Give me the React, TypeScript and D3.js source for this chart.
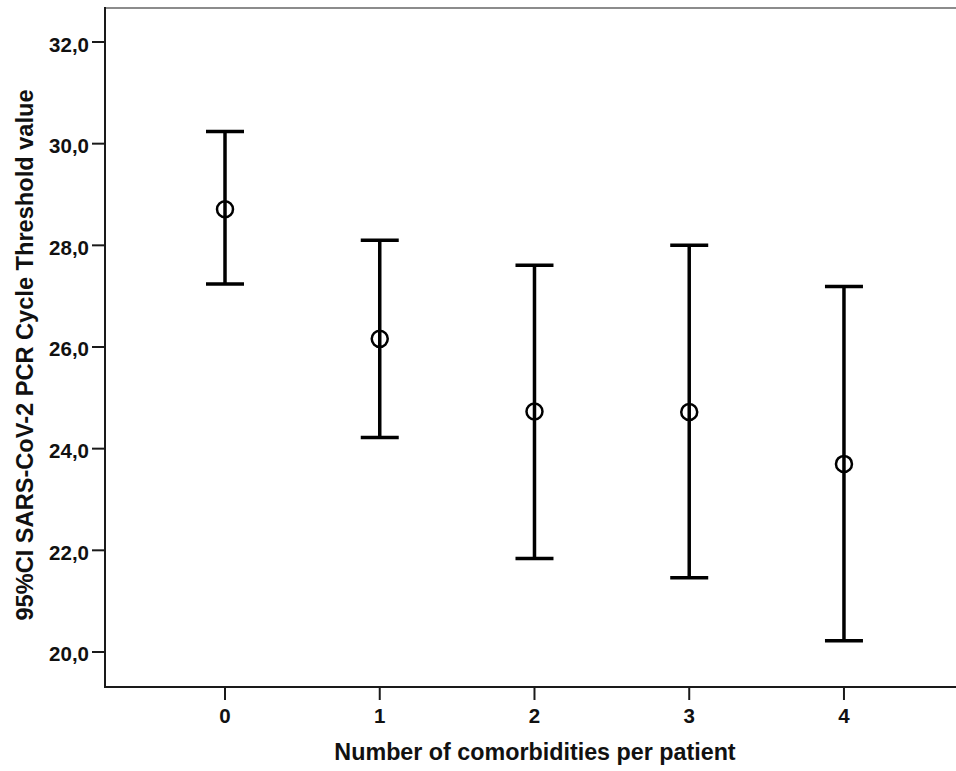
import React from "react";
import * as d3 from "d3";

const categories = [0, 1, 2, 3, 4];
const means = [28.71, 26.16, 24.73, 24.72, 23.7];
const upper = [30.24, 28.1, 27.61, 28.0, 27.19];
const lower = [27.24, 24.22, 21.84, 21.46, 20.22];
const yTicks = [20, 22, 24, 26, 28, 30, 32];
const xTitle = "Number of comorbidities per patient";
const yTitle = "95%CI SARS-CoV-2 PCR Cycle Threshold value";

const W = 956;
const H = 771;
const left = 105;
const right = 956;
const top = 8;
const bottom = 687;
const FONT = "'Liberation Sans', Arial, sans-serif";

export default function App() {
  const x = d3.scaleLinear().domain([-0.7755, 4.724]).range([left, right]);
  const y = d3.scaleLinear().domain([19.311, 32.669]).range([bottom, top]);
  const fmt = (v: number) => d3.format(".1f")(v).replace(".", ",");
  const capHalf = 19;

  return (
    <svg
      width={W}
      height={H}
      style={{ position: "absolute", left: 0, top: 0, background: "#fff" }}
      fontFamily={FONT}
    >
      <rect x={0} y={0} width={W} height={H} fill="#fff" />
      {/* top frame line */}
      <line x1={left} x2={right} y1={top} y2={top} stroke="#8c8c8c" strokeWidth={2} />
      {/* axes */}
      <line x1={left} x2={left} y1={top - 1} y2={bottom + 1} stroke="#1a1a1a" strokeWidth={2} />
      <line x1={left - 1} x2={right} y1={bottom} y2={bottom} stroke="#1a1a1a" strokeWidth={2} />

      {yTicks.map((t) => (
        <g key={"y" + t}>
          <line x1={left - 13} x2={left} y1={y(t)} y2={y(t)} stroke="#1a1a1a" strokeWidth={2} />
          <text
            x={left - 16}
            y={y(t) + 9.5}
            textAnchor="end"
            fontSize={20.5}
            fontWeight="bold"
            fill="#111"
          >
            {fmt(t)}
          </text>
        </g>
      ))}

      {categories.map((c) => (
        <g key={"x" + c}>
          <line x1={x(c)} x2={x(c)} y1={bottom} y2={bottom + 13} stroke="#1a1a1a" strokeWidth={2} />
          <text
            x={x(c)}
            y={bottom + 36}
            textAnchor="middle"
            fontSize={20.5}
            fontWeight="bold"
            fill="#111"
          >
            {c}
          </text>
        </g>
      ))}

      {categories.map((c, i) => (
        <g key={"e" + c} stroke="#000" fill="none">
          <line x1={x(c)} x2={x(c)} y1={y(upper[i])} y2={y(lower[i])} strokeWidth={3.5} />
          <line x1={x(c) - capHalf} x2={x(c) + capHalf} y1={y(upper[i])} y2={y(upper[i])} strokeWidth={3.5} />
          <line x1={x(c) - capHalf} x2={x(c) + capHalf} y1={y(lower[i])} y2={y(lower[i])} strokeWidth={3.5} />
          <circle cx={x(c)} cy={y(means[i])} r={8} strokeWidth={2.5} />
        </g>
      ))}

      <text
        x={535}
        y={760}
        textAnchor="middle"
        fontSize={23.3}
        fontWeight="bold"
        fill="#111"
      >
        {xTitle}
      </text>
      <text
        transform={`translate(33, 355) rotate(-90)`}
        textAnchor="middle"
        fontSize={23.6}
        fontWeight="bold"
        fill="#111"
      >
        {yTitle}
      </text>
    </svg>
  );
}
